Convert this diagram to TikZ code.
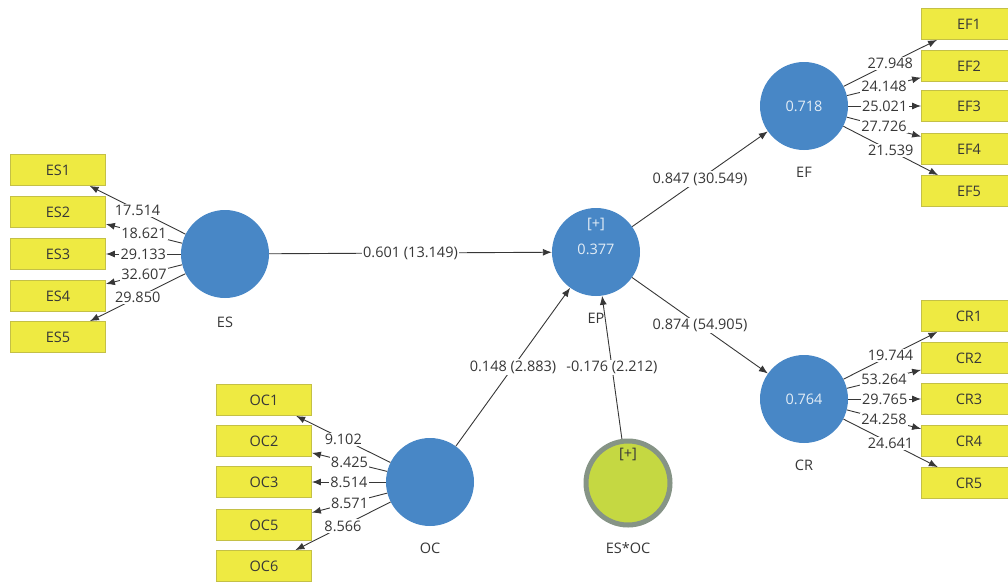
\documentclass[tikz,border=0pt]{standalone}
\usepackage{fontspec}
\setmainfont{Open Sans}
\usetikzlibrary{arrows.meta}
\definecolor{lvblue}{RGB}{72,135,198}
\definecolor{mvyellow}{RGB}{238,234,66}
\definecolor{mvedge}{RGB}{196,192,70}
\definecolor{modgreen}{RGB}{197,216,66}
\definecolor{modgray}{RGB}{134,148,134}
\definecolor{txt}{RGB}{55,55,55}
\tikzstyle{lv} = [circle, minimum size=88pt, fill=lvblue, inner sep=0pt, text=white!85!lvblue]
\tikzstyle{mv} = [rectangle, minimum width=95pt, minimum height=31pt, fill=mvyellow, draw=mvedge, line width=0.8pt, inner sep=0pt]
\tikzstyle{mod} = [circle, minimum size=84pt, fill=modgreen, draw=modgray, line width=5pt, inner sep=0pt]
\tikzstyle{link} = [draw=txt, line width=0.9pt, -{Latex[length=9pt,width=7pt]}]
\tikzstyle{wt} = [midway, fill=white, inner sep=1.2pt, text=txt]

\begin{document}
\begin{tikzpicture}[x=1pt, y=-1pt, every node/.style={font=\fontsize{14.5}{17}\selectfont, text=txt}]
        \useasboundingbox (0,0) rectangle (1008,581);
        \clip (0,0) rectangle (1008,581);
        % latent variables
        \node (ES) [lv] at (225,254) {};
        \node (EP) [lv] at (596,252) {};
        \node (EF) [lv] at (804,106) {0.718};
        \node (CR) [lv] at (804,399) {0.764};
        \node (OC) [lv] at (430,482) {};
        \node (ESOC) [mod] at (628,483) {};
        \node at (596,224) [text=white!85!lvblue] {[+]};
        \node at (596,249) [text=white!85!lvblue] {0.377};
        \node at (628,454) {[+]};
        \node (ESl) at (225,322) {ES};
        \node (EPl) at (596,318) {EP};
        \node (EFl) at (804,172) {EF};
        \node (CRl) at (804,465) {CR};
        \node (OCl) at (430,548) {OC};
        \node (ESOCl) at (628,548) {ES*OC};
        % indicators
        \node (ES1) [mv] at (58,170) {ES1};
        \node (ES2) [mv] at (58,212) {ES2};
        \node (ES3) [mv] at (58,254) {ES3};
        \node (ES4) [mv] at (58,296) {ES4};
        \node (ES5) [mv] at (58,337) {ES5};
        \node (EF1) [mv] at (969,24) {EF1};
        \node (EF2) [mv] at (969,66) {EF2};
        \node (EF3) [mv] at (969,106) {EF3};
        \node (EF4) [mv] at (969,149) {EF4};
        \node (EF5) [mv] at (969,191) {EF5};
        \node (CR1) [mv] at (969,316) {CR1};
        \node (CR2) [mv] at (969,358) {CR2};
        \node (CR3) [mv] at (969,399) {CR3};
        \node (CR4) [mv] at (969,441) {CR4};
        \node (CR5) [mv] at (969,483) {CR5};
        \node (OC1) [mv] at (264,400) {OC1};
        \node (OC2) [mv] at (264,441) {OC2};
        \node (OC3) [mv] at (264,482) {OC3};
        \node (OC5) [mv] at (264,525) {OC5};
        \node (OC6) [mv] at (264,566) {OC6};
        % outer loadings
        \draw [link] (ES) -- node [wt] {17.514} (ES1);
        \draw [link] (ES) -- node [wt] {18.621} (ES2);
        \draw [link] (ES) -- node [wt] {29.133} (ES3);
        \draw [link] (ES) -- node [wt] {32.607} (ES4);
        \draw [link] (ES) -- node [wt] {29.850} (ES5);
        \draw [link] (EF) -- node [wt] {27.948} (EF1);
        \draw [link] (EF) -- node [wt] {24.148} (EF2);
        \draw [link] (EF) -- node [wt] {25.021} (EF3);
        \draw [link] (EF) -- node [wt] {27.726} (EF4);
        \draw [link] (EF) -- node [wt] {21.539} (EF5);
        \draw [link] (CR) -- node [wt] {19.744} (CR1);
        \draw [link] (CR) -- node [wt] {53.264} (CR2);
        \draw [link] (CR) -- node [wt] {29.765} (CR3);
        \draw [link] (CR) -- node [wt] {24.258} (CR4);
        \draw [link] (CR) -- node [wt] {24.641} (CR5);
        \draw [link] (OC) -- node [wt] {9.102} (OC1);
        \draw [link] (OC) -- node [wt] {8.425} (OC2);
        \draw [link] (OC) -- node [wt] {8.514} (OC3);
        \draw [link] (OC) -- node [wt] {8.571} (OC5);
        \draw [link] (OC) -- node [wt] {8.566} (OC6);
        % structural paths
        \draw [link] (ES) -- node [wt] {0.601 (13.149)} (EP);
        \draw [link] (OC) -- node [wt] {0.148 (2.883)} (EP);
        \draw [link] (ESOC) -- node [wt] {-0.176 (2.212)} (EP);
        \draw [link] (EP) -- node [wt] {0.847 (30.549)} (EF);
        \draw [link] (EP) -- node [wt] {0.874 (54.905)} (CR);
    \end{tikzpicture}
\end{document}
